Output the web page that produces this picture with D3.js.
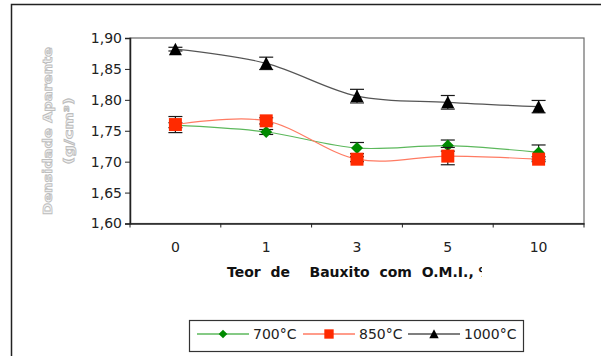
<!DOCTYPE html>
<html>
<head>
<meta charset="utf-8">
<script src="https://cdn.jsdelivr.net/npm/d3@7"></script>
<style>
	body { margin: 0; background: #fff; }
	svg { display: block; }
</style>
</head>
<body>
<svg id="chart"></svg>
<script>
let width = 601;
let height = 356;

// data
const categories = ["0", "1", "3", "5", "10"];
const yTicks = [1.6, 1.65, 1.7, 1.75, 1.8, 1.85, 1.9];
const seriesNames = ["700\u00b0C", "850\u00b0C", "1000\u00b0C"];
const values700 = [1.759, 1.748, 1.722, 1.726, 1.715];
const values850 = [1.760, 1.766, 1.704, 1.709, 1.704];
const values1000 = [1.882, 1.859, 1.806, 1.796, 1.789];
const err700 = [0.004, 0.004, 0.009, 0.009, 0.012];
const err850 = [0.013, 0.005, 0.004, 0.014, 0.004];
const err1000 = [0.003, 0.010, 0.011, 0.011, 0.010];

const styles = [
	{ line: "#5cb85c", fill: "#008a00", marker: "diamond" },
	{ line: "#ff7b63", fill: "#ff2a00", marker: "square" },
	{ line: "#555555", fill: "#000000", marker: "triangle" },
];

const series = [values700, values850, values1000].map((vals, i) => {
	var errs = [err700, err850, err1000][i];
	return {
		name: seriesNames[i],
		style: styles[i],
		points: vals.map((v, j) => ({ cat: categories[j], value: v, err: errs[j] })),
	};
});

const plot = { left: 130, right: 584, top: 38, bottom: 223.5 };

const svg = d3.select("#chart").attr("width", width).attr("height", height);

// outer frame (runs off the picture on the right and bottom)
svg.append("rect")
	.attr("x", 11.5).attr("y", 4.5)
	.attr("width", 700).attr("height", 500)
	.attr("fill", "white")
	.attr("stroke", "#222").attr("stroke-width", 1.5);

const x = d3.scaleBand().domain(categories).range([plot.left, plot.right]).padding(0);
const y = d3.scaleLinear().domain([1.6, 1.9]).range([plot.bottom, plot.top]);

// plot area border
svg.append("rect")
	.attr("x", plot.left).attr("y", plot.top)
	.attr("width", plot.right - plot.left).attr("height", plot.bottom - plot.top)
	.attr("fill", "white")
	.attr("stroke", "#6a6a6a").attr("stroke-width", 1.2);

// y axis
const yAxis = svg.append("g")
	.attr("transform", "translate(" + plot.left + ",0)")
	.call(d3.axisLeft(y)
		.tickValues(yTicks)
		.tickSize(5)
		.tickPadding(3)
		.tickFormat((d) => d3.format(".2f")(d).replace(".", ",")));
yAxis.select(".domain").attr("stroke", "#222").attr("stroke-width", 1.5);
yAxis.selectAll(".tick line").attr("stroke", "#222");
yAxis.selectAll("text")
	.attr("font-family", "DejaVu Sans").attr("font-size", 14).attr("fill", "#222");

// x axis: labels at band centres, ticks at band edges
const xAxis = svg.append("g")
	.attr("transform", "translate(0," + plot.bottom + ")")
	.call(d3.axisBottom(x).tickSize(0).tickPadding(19));
xAxis.select(".domain").attr("stroke", "#222").attr("stroke-width", 1.5);
xAxis.selectAll("text")
	.attr("font-family", "DejaVu Sans").attr("font-size", 14).attr("fill", "#222");

const edges = categories.map((c) => x(c)).concat([x(categories[categories.length - 1]) + x.bandwidth()]);
svg.append("g")
	.selectAll("line")
	.data(edges)
	.enter()
	.append("line")
	.attr("x1", (d) => d).attr("x2", (d) => d)
	.attr("y1", plot.bottom).attr("y2", plot.bottom + 4)
	.attr("stroke", "#222");

// x title, the "%" got cut in the original
svg.append("clipPath").attr("id", "titleClip")
	.append("rect").attr("x", 0).attr("y", 255).attr("width", 482).attr("height", 30);
svg.append("text")
	.attr("clip-path", "url(#titleClip)")
	.attr("x", 227).attr("y", 277)
	.attr("xml:space", "preserve")
	.style("white-space", "pre")
	.attr("font-family", "DejaVu Sans").attr("font-weight", "bold").attr("font-size", 14)
	.attr("fill", "#111")
	.text("Teor  de    Bauxito  com  O.M.I., %");

// y title (rendered as washed out outline glyphs)
function yTitle(txt, cx, len) {
	svg.append("text")
		.attr("transform", "translate(" + cx + ",131) rotate(-90)")
		.attr("text-anchor", "middle")
		.attr("dominant-baseline", "central")
		.attr("textLength", len)
		.attr("lengthAdjust", "spacingAndGlyphs")
		.attr("font-family", "DejaVu Sans").attr("font-weight", "bold").attr("font-size", 12)
		.attr("fill", "#f2f2f2").attr("stroke", "#bdbdbd").attr("stroke-width", 0.8)
		.text(txt);
}
yTitle("Densidade Aparente", 47.5, 168);
yTitle("(g/cm\u00b3)", 68.5, 67);

function markerPath(kind) {
	if (kind === "diamond") return "M0,-6L6,0L0,6L-6,0Z";
	if (kind === "square") return "M-6.5,-6.5H6.5V6.5H-6.5Z";
	return "M0,-6.5L6.5,6L-6.5,6Z";
}

const line = d3.line()
	.x((d) => x(d.cat) + x.bandwidth() / 2)
	.y((d) => y(d.value))
	.curve(d3.curveCatmullRom.alpha(0));

const seriesGroup = svg.append("g");

series.forEach((s) => {
	const g = seriesGroup.append("g");
	g.append("path")
		.datum(s.points)
		.attr("d", line)
		.attr("fill", "none")
		.attr("stroke", s.style.line)
		.attr("stroke-width", 1.2);

	const bars = g.append("g")
		.selectAll("g")
		.data(s.points)
		.enter()
		.append("g")
		.attr("stroke", "#1a1a1a")
		.attr("stroke-width", 1.2);
	bars.append("line")
		.attr("x1", (d) => x(d.cat) + x.bandwidth() / 2)
		.attr("x2", (d) => x(d.cat) + x.bandwidth() / 2)
		.attr("y1", (d) => y(d.value - d.err))
		.attr("y2", (d) => y(d.value + d.err));
	[-1, 1].forEach((sign) => {
		bars.append("line")
			.attr("x1", (d) => x(d.cat) + x.bandwidth() / 2 - 7)
			.attr("x2", (d) => x(d.cat) + x.bandwidth() / 2 + 7)
			.attr("y1", (d) => y(d.value + sign * d.err))
			.attr("y2", (d) => y(d.value + sign * d.err));
	});

	g.append("g")
		.selectAll("path")
		.data(s.points)
		.enter()
		.append("path")
		.attr("transform", (d) => "translate(" + (x(d.cat) + x.bandwidth() / 2) + "," + y(d.value) + ")")
		.attr("d", markerPath(s.style.marker))
		.attr("fill", s.style.fill);
});

// legend
const legend = svg.append("g");
legend.append("rect")
	.attr("x", 189.5).attr("y", 320.5)
	.attr("width", 334).attr("height", 31)
	.attr("fill", "white")
	.attr("stroke", "#333").attr("stroke-width", 1.2);

const legendX = [197, 303, 408];
series.forEach((s, i) => {
	const lx = legendX[i];
	legend.append("line")
		.attr("x1", lx).attr("x2", lx + 52)
		.attr("y1", 334).attr("y2", 334)
		.attr("stroke", s.style.line).attr("stroke-width", 1.4);
	legend.append("path")
		.attr("transform", "translate(" + (lx + 26) + ",334) scale(0.72)")
		.attr("d", markerPath(s.style.marker))
		.attr("fill", s.style.fill);
	legend.append("text")
		.attr("x", lx + 56).attr("y", 339)
		.attr("font-family", "DejaVu Sans").attr("font-size", 14)
		.attr("fill", "#222")
		.text(s.name);
});
</script>
</body>
</html>
